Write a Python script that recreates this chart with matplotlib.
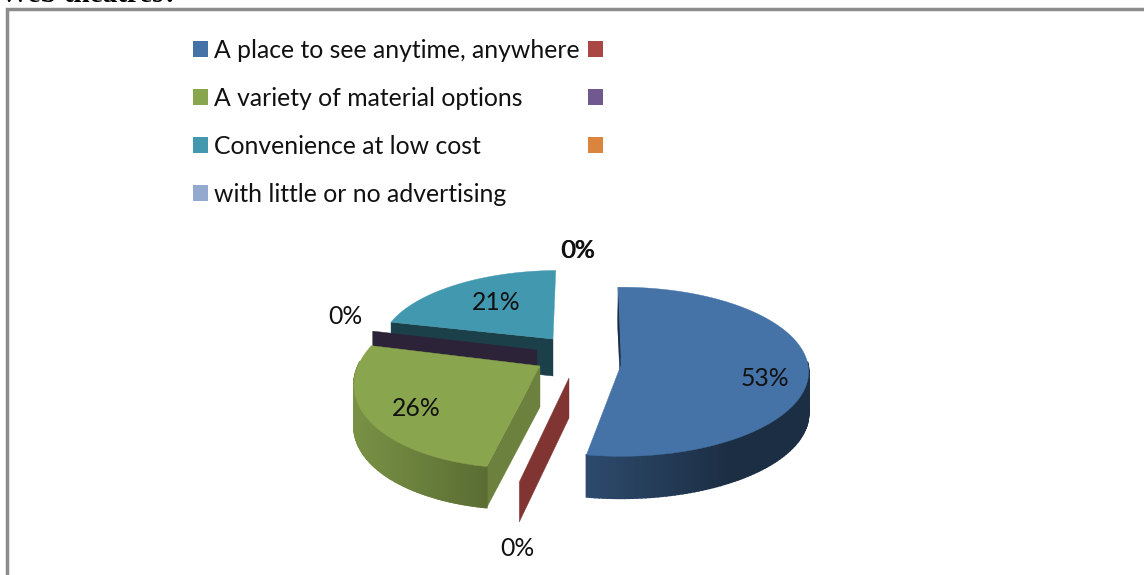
import numpy as np
import matplotlib
matplotlib.use("Agg")
import matplotlib.pyplot as plt

# Survey shares, in percent, and legend captions (blank captions are unnamed series)
captions = ["A place to see anytime, anywhere", "", "A variety of material options", "",
            "Convenience at low cost", "", "with little or no advertising"]
shares = [53, 0, 26, 0, 21, 0, 0]
colors = ["#4572A7", "#AA4643", "#89A54E", "#71588F", "#4198AF", "#DB843D", "#93A9CF"]

FONT = "Lato"
START_ANGLE = -1.0
FONT_SIZE = 17.85

# Placement of each exploded slice on the tilted disc
slice_geometry = {
    0: dict(apex=(621, 365), rx=187, ry=84, p=0.08, shear=0.0, depth=42),
    1: dict(apex=(569, 378), rx=190, ry=93, p=0.12, shear=-0.125, depth=40),
    2: dict(apex=(540, 366), rx=182, ry=90, p=0.12, shear=-0.18, depth=41),
    3: dict(apex=(537, 350), rx=172, ry=83, p=0.08, shear=0.0, depth=37),
    4: dict(apex=(553, 339), rx=171, ry=74, p=0.08, shear=-0.08, depth=37),
}
label_positions = {
    0: (764.5, 378), 1: (517.5, 549), 2: (416.5, 408), 3: (345.5, 316),
    4: (496.5, 302), 5: (578, 250), 6: (577, 250),
}


def shade(color, factor):
    rgb = np.array(matplotlib.colors.to_rgb(color))
    return tuple(rgb * factor)


def rim(geo, angles_deg):
    """Project clockwise-from-top angles onto the tilted, slightly perspective rim."""
    t = np.radians(angles_deg)
    u, v = np.sin(t), np.cos(t)
    s = 1 / (1 + geo["p"] * v)
    dy = -geo["ry"] * v * s
    dx = geo["rx"] * u * s + geo["shear"] * dy
    return geo["apex"][0] + dx, geo["apex"][1] + dy


def draw_slice(ax, geo, a0, a1, color, wall, face_factor):
    ax_, ay_ = geo["apex"]
    d = geo["depth"]
    # the leading end face is the only one the viewer can see
    x, y = rim(geo, np.array([a0]))
    ax.fill([ax_, x[0], x[0], ax_], [ay_, y[0], y[0] + d, ay_ + d],
            color=shade(color, face_factor), lw=0.3, zorder=geo["z"])
    if a1 <= a0:
        return
    # outer wall as strips shaded from left to right, front part of the rim only
    light, dark, span = wall
    edges = np.linspace(a0, a1, 160)
    xs, ys = rim(geo, edges)
    front = np.cos(np.radians(edges)) < 0.05
    if front.any():
        x0 = xs[front].min()
        x1 = x0 + span * (xs[front].max() - x0)
        for i in range(len(edges) - 1):
            if not (front[i] and front[i + 1]):
                continue
            f = np.clip((0.5 * (xs[i] + xs[i + 1]) - x0) / (x1 - x0), 0, 1)
            ax.fill([xs[i], xs[i + 1], xs[i + 1], xs[i]],
                    [ys[i], ys[i + 1], ys[i + 1] + d, ys[i] + d],
                    color=shade(color, light + (dark - light) * f),
                    lw=1.2, zorder=geo["z"])
    xs, ys = rim(geo, np.linspace(a0, a1, 200))
    ax.fill(np.r_[ax_, xs], np.r_[ay_, ys], color=color, lw=0.3, zorder=geo["z"] + 0.5)


fig = plt.figure(figsize=(11.44, 5.75), dpi=100)
ax = fig.add_axes([0, 0, 1, 1])
ax.set_xlim(0, 1144)
ax.set_ylim(575, 0)
ax.axis("off")

# Line of body text cut off above the chart frame
ax.text(0, 2.5, "Web theatres?", family="Liberation Serif", fontweight="bold",
        fontsize=21, color="black", va="baseline", ha="left")

# Chart frame: open on the right and at the bottom of the crop
ax.plot([7, 7, 1144], [575, 9, 9], color="#8c8c8c", lw=2.5, solid_joinstyle="miter", zorder=1)

# Legend, two columns of four and three rows
rows = [49, 97, 145, 193]
legend_slots = [(193, rows[0]), (588, rows[0]), (193, rows[1]), (588, rows[1]),
                (193, rows[2]), (588, rows[2]), (193, rows[3])]
for (x, y), name, c in zip(legend_slots, captions, colors):
    ax.add_patch(plt.Rectangle((x, y - 8), 15, 16, color=c, lw=0, zorder=2))
    if name:
        ax.text(x + 21, y + 1.5, name, family=FONT, fontsize=FONT_SIZE, color="#111111",
                va="center", ha="left")

# Slice angles follow from the shares, clockwise from the top
cum = START_ANGLE + np.r_[0, np.cumsum(shares)] * 3.6
wall_shades = {0: (0.65, 0.40, 0.65), 2: (0.88, 0.66, 1.0), 4: (0.45, 0.45, 1.0)}
end_faces = {0: 0.42, 1: 0.75, 2: 0.78, 3: 0.40, 4: 0.42}
draw_order = [4, 3, 2, 1, 0]
for z, i in enumerate(draw_order):
    geo = dict(slice_geometry[i], z=3 + z)
    draw_slice(ax, geo, cum[i], cum[i + 1], colors[i], wall_shades.get(i), end_faces[i])

# Dark sliver along the inner edge of the largest slice
geo0 = slice_geometry[0]
x_top, y_top = rim(geo0, np.array([cum[0]]))
yy = np.linspace(y_top[0] + 8, geo0["apex"][1], 30)
frac = (yy - yy[0]) / (yy[-1] - yy[0])
edge_x = x_top[0] + (geo0["apex"][0] - x_top[0]) * (yy - y_top[0]) / (geo0["apex"][1] - y_top[0])
ax.fill(np.r_[edge_x, edge_x[::-1] - 2 * np.sin(np.pi * frac[::-1])], np.r_[yy, yy[::-1]],
        color="#1c2e47", lw=0, zorder=10)

# Percentage labels
for i, share in enumerate(shares):
    x, y = label_positions[i]
    ax.text(x, y, f"{share}%", family=FONT, fontsize=FONT_SIZE, color="#111111",
            ha="center", va="center", zorder=20)

fig.savefig("out.png", dpi=100)
